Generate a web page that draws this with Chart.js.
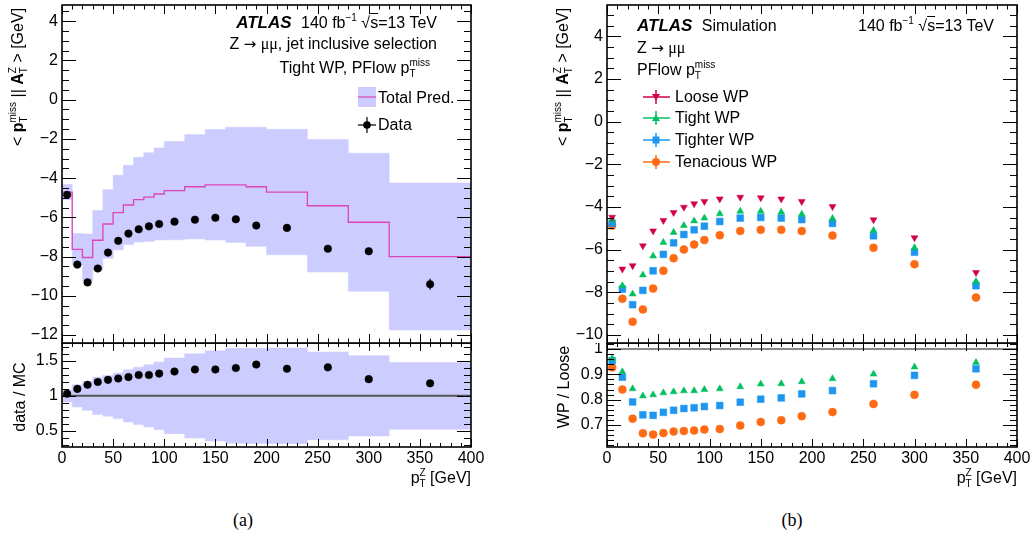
<!DOCTYPE html>
<html>
<head>
<meta charset="utf-8">
<script src="https://cdn.jsdelivr.net/npm/chart.js@4.4.1/dist/chart.umd.min.js"></script>
<style>
  body { margin: 0; background: #fff; }
  #page { position: relative; width: 1035px; height: 538px; overflow: hidden; font-family: "Liberation Sans", Arial, sans-serif; color: #000; }
  canvas { position: absolute; }
  .t { position: absolute; font-size: 16px; line-height: 18px; white-space: nowrap; }
  .atlas { font-weight: bold; font-style: italic; font-size: 17px; margin-right: 5px; }
  .ss { display: inline-block; vertical-align: -4px; font-size: 10px; line-height: 11px; }
  .ss i { display: block; font-style: normal; }
  .rot { transform: translate(-50%, -50%) rotate(-90deg); }
  .cap { position: absolute; font-family: "Liberation Serif", "Times New Roman", serif; font-size: 18px; transform: translateX(-50%); }
  .ov { text-decoration: overline; }
  .arr { font-family: "DejaVu Sans", sans-serif; font-size: 15px; }
  .mu { font-family: "Liberation Serif", serif; }
  sup { font-size: 10px; vertical-align: 7px; line-height: 0; }
  svg { position: absolute; }
</style>
</head>
<body>
<div id="page">
  <canvas id="mainA" width="500" height="345" style="left:0;top:0"></canvas>
  <canvas id="ratioA" width="500" height="130" style="left:0;top:343px"></canvas>
  <canvas id="mainB" width="495" height="345" style="left:540px;top:0"></canvas>
  <canvas id="ratioB" width="495" height="130" style="left:540px;top:343px"></canvas>

  <!-- panel (a) labels -->
  <div class="t rot" style="left:18px;top:77px">&lt; <b>p</b><span class="ss"><i>miss</i><i>T</i></span> || <b>A</b><span class="ss"><i>Z</i><i>T</i></span> &gt; [GeV]</div>
  <div class="t rot" style="left:20px;top:397px">data / MC</div>
  <div class="t" style="right:598px;top:14px"><span class="atlas">ATLAS</span> 140 fb<sup>&minus;1</sup> &radic;<span class="ov">s</span>=13 TeV</div>
  <div class="t" style="right:598px;top:35px">Z <span class="arr">&rarr;</span> <span class="mu">&mu;&mu;</span>, jet inclusive selection</div>
  <div class="t" style="right:605px;top:57px">Tight WP, PFlow p<span class="ss"><i>miss</i><i>T</i></span></div>
  <svg width="18" height="20" style="left:358px;top:87px"><rect width="18" height="20" fill="#ccccff"/><line x1="0" y1="10" x2="18" y2="10" stroke="#dd44bb" stroke-width="1.2"/></svg>
  <div class="t" style="left:378px;top:89px">Total Pred.</div>
  <svg width="20" height="18" style="left:357px;top:116px"><line x1="1" y1="9" x2="19" y2="9" stroke="#000" stroke-width="1.2"/><line x1="10" y1="1" x2="10" y2="17" stroke="#000" stroke-width="1.2"/><circle cx="10" cy="9" r="3.8" fill="#000"/></svg>
  <div class="t" style="left:378px;top:116px">Data</div>
  <div class="t" style="right:564px;top:467px">p<span class="ss"><i>Z</i><i>T</i></span> [GeV]</div>
  <div class="cap" style="left:243px;top:510px">(a)</div>

  <!-- panel (b) labels -->
  <div class="t rot" style="left:563px;top:77px">&lt; <b>p</b><span class="ss"><i>miss</i><i>T</i></span> || <b>A</b><span class="ss"><i>Z</i><i>T</i></span> &gt; [GeV]</div>
  <div class="t rot" style="left:564px;top:387px">WP / Loose</div>
  <div class="t" style="left:637px;top:17px"><span class="atlas">ATLAS</span> Simulation</div>
  <div class="t" style="right:41px;top:17px">140 fb<sup>&minus;1</sup> &radic;<span class="ov">s</span>=13 TeV</div>
  <div class="t" style="left:637px;top:39px">Z <span class="arr">&rarr;</span> <span class="mu">&mu;&mu;</span></div>
  <div class="t" style="left:637px;top:59px">PFlow p<span class="ss"><i>miss</i><i>T</i></span></div>
  <div id="legB"></div>
  <div class="t" style="right:18px;top:467px">p<span class="ss"><i>Z</i><i>T</i></span> [GeV]</div>
  <div class="cap" style="left:792px;top:510px">(b)</div>
</div>
<script>
// binning in pT^Z
const binEdges = [0, 10, 20, 30, 40, 50, 60, 70, 80, 90, 100, 120, 140, 160, 180, 200, 240, 280, 320, 400];
const binCenters = [5, 15, 25, 35, 45, 55, 65, 75, 85, 95, 110, 130, 150, 170, 190, 220, 260, 300, 360];

// (a) data vs total prediction
const predVal = [-4.71, -7.63, -8.05, -7.17, -6.34, -5.76, -5.37, -5.10, -4.97, -4.81, -4.64, -4.44, -4.34, -4.34, -4.44, -4.71, -5.41, -6.25, -8.00];
const predErr = [0.39, 0.8, 1.2, 1.52, 1.75, 1.9, 2.02, 2.16, 2.26, 2.35, 2.51, 2.66, 2.82, 2.94, 3.04, 3.2, 3.38, 3.52, 3.75];
const dataVal = [-4.85, -8.41, -9.32, -8.61, -7.80, -7.20, -6.83, -6.61, -6.46, -6.34, -6.22, -6.12, -6.02, -6.10, -6.42, -6.54, -7.60, -7.73, -9.41];
const dataErr = [0.05, 0.05, 0.05, 0.05, 0.05, 0.05, 0.05, 0.05, 0.05, 0.05, 0.05, 0.06, 0.06, 0.07, 0.08, 0.08, 0.1, 0.15, 0.28];
const dataMcRatio = [1.03, 1.10, 1.16, 1.20, 1.23, 1.25, 1.27, 1.30, 1.30, 1.32, 1.35, 1.38, 1.38, 1.40, 1.45, 1.39, 1.41, 1.24, 1.18];
const mcRelErr = [0.087, 0.159, 0.207, 0.269, 0.293, 0.327, 0.375, 0.413, 0.447, 0.486, 0.543, 0.606, 0.649, 0.68, 0.685, 0.688, 0.63, 0.577, 0.481];

// (b) simulation, working points
const looseVal = [-4.48, -6.91, -6.75, -5.82, -5.12, -4.63, -4.26, -4.01, -3.85, -3.74, -3.62, -3.54, -3.57, -3.62, -3.74, -3.98, -4.60, -5.44, -7.07];
const tightVal = [-4.60, -7.69, -8.08, -7.19, -6.30, -5.66, -5.19, -4.87, -4.65, -4.52, -4.32, -4.20, -4.20, -4.24, -4.34, -4.54, -5.10, -5.91, -7.49];
const tighterVal = [-4.76, -7.85, -8.58, -7.91, -6.99, -6.22, -5.68, -5.29, -5.07, -4.90, -4.68, -4.52, -4.49, -4.52, -4.59, -4.77, -5.35, -6.12, -7.69];
const tenaciousVal = [-4.87, -8.30, -9.38, -8.80, -7.82, -6.99, -6.40, -5.99, -5.76, -5.55, -5.32, -5.12, -5.07, -5.07, -5.13, -5.34, -5.91, -6.68, -8.24];
const tightRatio = [0.963, 0.91, 0.843, 0.815, 0.819, 0.827, 0.831, 0.835, 0.835, 0.84, 0.843, 0.851, 0.862, 0.863, 0.871, 0.883, 0.901, 0.929, 0.947];
const tighterRatio = [0.954, 0.889, 0.791, 0.74, 0.738, 0.75, 0.758, 0.765, 0.768, 0.773, 0.777, 0.79, 0.802, 0.807, 0.823, 0.836, 0.863, 0.896, 0.922];
const tenaciousRatio = [0.927, 0.84, 0.725, 0.667, 0.662, 0.668, 0.674, 0.676, 0.678, 0.682, 0.684, 0.698, 0.712, 0.719, 0.735, 0.751, 0.783, 0.819, 0.859];

// tick labels
const xTicks = [0, 50, 100, 150, 200, 250, 300, 350, 400];
const mainTicksA = [-12, -10, -8, -6, -4, -2, 0, 2, 4];
const ratioTicksA = [0.5, 1, 1.5];
const mainTicksB = [-10, -8, -6, -4, -2, 0, 2, 4];
const ratioTicksB = [0.7, 0.8, 0.9, 1];

const FONT = '"Liberation Sans", Arial, sans-serif';
const COL = { band: '#ccccff', pred: '#dd44bb', loose: '#d0004a', tight: '#00c060', tighter: '#1e96f0', tenacious: '#ff6a14' };
const WPS = [
  { name: 'Loose WP', color: COL.loose, style: 'triangle', rot: 180, vals: looseVal },
  { name: 'Tight WP', color: COL.tight, style: 'triangle', rot: 0, vals: tightVal, ratio: tightRatio },
  { name: 'Tighter WP', color: COL.tighter, style: 'rect', rot: 0, vals: tighterVal, ratio: tighterRatio },
  { name: 'Tenacious WP', color: COL.tenacious, style: 'circle', rot: 0, vals: tenaciousVal, ratio: tenaciousRatio }
];

const pts = ys => binCenters.map((x, i) => ({ x, y: ys[i] }));
const steps = vals => binEdges.map((x, i) => ({ x, y: vals[Math.min(i, vals.length - 1)] }));
const fmt = v => (v < 0 ? '\u2212' : '') + Math.abs(v);

// ROOT-like frame with inward ticks on all four sides
const rootFrame = {
  id: 'rootFrame',
  afterDatasetsDraw(chart, args, o) {
    const { ctx, chartArea: a } = chart;
    const x = chart.scales.x, y = chart.scales.y;
    ctx.save();
    ctx.strokeStyle = '#000';
    ctx.lineWidth = 1;
    ctx.beginPath();
    const marks = (scale, step, len, horiz) => {
      for (let i = Math.ceil(scale.min / step - 1e-6); i * step <= scale.max + 1e-6; i++) {
        const p = Math.round(scale.getPixelForValue(i * step)) + 0.5;
        if (horiz) {
          ctx.moveTo(p, a.bottom); ctx.lineTo(p, a.bottom - len);
          ctx.moveTo(p, a.top); ctx.lineTo(p, a.top + len);
        } else {
          ctx.moveTo(a.left, p); ctx.lineTo(a.left + len, p);
          ctx.moveTo(a.right, p); ctx.lineTo(a.right - len, p);
        }
      }
    };
    marks(x, o.xMinor, o.xMinorLen, true);
    marks(x, o.xMajor, o.xMajorLen, true);
    marks(y, o.yMinor, o.yMinorLen, false);
    marks(y, o.yMajor, o.yMajorLen, false);
    ctx.stroke();
    ctx.lineWidth = 1.6;
    ctx.strokeRect(a.left, a.top, a.right - a.left, a.bottom - a.top);
    ctx.restore();
  }
};

const errorBars = {
  id: 'errorBars',
  afterDatasetsDraw(chart) {
    const ctx = chart.ctx, y = chart.scales.y;
    ctx.save();
    chart.data.datasets.forEach((ds, i) => {
      if (!ds.yErr) return;
      ctx.strokeStyle = ds.pointBackgroundColor;
      ctx.lineWidth = 1.2;
      ctx.beginPath();
      chart.getDatasetMeta(i).data.forEach((pt, j) => {
        const v = ds.data[j].y, e = ds.yErr[j];
        ctx.moveTo(pt.x, y.getPixelForValue(v + e));
        ctx.lineTo(pt.x, y.getPixelForValue(v - e));
      });
      ctx.stroke();
    });
    ctx.restore();
  }
};

function yAxis(min, max, ticks, width) {
  return {
    type: 'linear', min, max,
    grid: { display: false, drawTicks: false },
    border: { display: false },
    ticks: { font: { family: FONT, size: 16 }, color: '#000', padding: 4, callback: fmt },
    afterBuildTicks: s => { s.ticks = ticks.map(v => ({ value: v })); },
    afterFit: s => { s.width = width; s.paddingTop = 0; s.paddingBottom = 0; }
  };
}

function xAxis(labels) {
  return {
    type: 'linear', min: 0, max: 400, display: labels,
    grid: { display: false, drawTicks: false },
    border: { display: false },
    ticks: { font: { family: FONT, size: 16 }, color: '#000', padding: 2, maxRotation: 0, autoSkip: false, callback: fmt },
    afterBuildTicks: s => { s.ticks = xTicks.map(v => ({ value: v })); },
    afterFit: s => { s.height = labels ? 26 : 0; s.paddingLeft = 0; s.paddingRight = 0; }
  };
}

function makeChart(id, datasets, yScale, labels, padRight, padTop, frame) {
  return new Chart(document.getElementById(id), {
    type: 'line',
    data: { datasets },
    plugins: [rootFrame, errorBars],
    options: {
      responsive: false,
      animation: false,
      devicePixelRatio: 1,
      layout: { autoPadding: false, padding: { left: 0, right: padRight, top: padTop, bottom: labels ? 0 : 2 } },
      scales: { x: xAxis(labels), y: yScale },
      plugins: { legend: { display: false }, tooltip: { enabled: false }, rootFrame: frame }
    }
  });
}

function markers(vals, color, style, rot, radius, order, err) {
  return {
    data: pts(vals), showLine: false, order, yErr: err,
    pointStyle: style, pointRotation: rot, pointRadius: radius,
    pointBackgroundColor: color, pointBorderColor: color, pointBorderWidth: 0.5
  };
}

function stepLine(vals, color, width, order, fill, bg) {
  return {
    data: steps(vals), stepped: 'before', order, fill: fill || false,
    borderColor: color, borderWidth: width, backgroundColor: bg || 'transparent', pointRadius: 0
  };
}

const frameMain = { xMajor: 50, xMinor: 10, xMajorLen: 9, xMinorLen: 4.5, yMajor: 2, yMinor: 0.5, yMajorLen: 14, yMinorLen: 7 };

// (a) main
makeChart('mainA', [
  markers(dataVal, '#000', 'circle', 0, 3.8, 0, dataErr),
  stepLine(predVal, COL.pred, 1.3, 1),
  stepLine(predVal.map((v, i) => v + predErr[i]), COL.band, 0.5, 2, '+1', COL.band),
  stepLine(predVal.map((v, i) => v - predErr[i]), COL.band, 0.5, 3)
], yAxis(-12.41, 4.83, mainTicksA, 62), false, 29, 5, frameMain);

// (a) ratio
makeChart('ratioA', [
  markers(dataMcRatio, '#000', 'circle', 0, 3.8, 0),
  stepLine(binEdges.map(() => 1), '#555', 2, 1),
  stepLine(mcRelErr.map(e => 1 + e), COL.band, 0.5, 2, '+1', COL.band),
  stepLine(mcRelErr.map(e => 1 - e), COL.band, 0.5, 3)
], yAxis(0.265, 1.76, ratioTicksA, 62), true, 29, 0,
  { xMajor: 50, xMinor: 10, xMajorLen: 8, xMinorLen: 4, yMajor: 0.5, yMinor: 0.1, yMajorLen: 14, yMinorLen: 7 });

// (b) main
makeChart('mainB', WPS.map((w, i) =>
  markers(w.vals, w.color, w.style, w.rot, w.style === 'rect' ? 4.8 : 4, i)
), yAxis(-10.375, 5.47, mainTicksB, 67), false, 18, 5, frameMain);

// (b) ratio
makeChart('ratioB', [
  ...WPS.slice(1).map((w, i) => markers(w.ratio, w.color, w.style, w.rot, w.style === 'rect' ? 4.8 : 4, i)),
  stepLine(binEdges.map(() => 1), '#888', 2, 5)
], yAxis(0.613, 1.024, ratioTicksB, 67), true, 18, 0,
  { xMajor: 50, xMinor: 10, xMajorLen: 8, xMinorLen: 4, yMajor: 0.1, yMinor: 0.02, yMajorLen: 14, yMinorLen: 7 });

// (b) legend
const leg = document.getElementById('legB');
const legY = [97, 118, 140, 162];
WPS.forEach((w, i) => {
  const y = legY[i];
  const glyph = w.style === 'circle' ? `<circle cx="13" cy="9" r="4" fill="${w.color}"/>`
    : w.style === 'rect' ? `<rect x="9.5" y="5.5" width="7" height="7" fill="${w.color}"/>`
    : w.rot ? `<polygon points="9,6 17,6 13,12.5" fill="${w.color}"/>`
    : `<polygon points="9,12 17,12 13,5.5" fill="${w.color}"/>`;
  leg.insertAdjacentHTML('beforeend',
    `<svg width="27" height="18" style="left:643px;top:${y - 9}px">` +
    `<line x1="0" y1="9" x2="27" y2="9" stroke="${w.color}" stroke-width="1.5"/>` +
    `<line x1="13" y1="2" x2="13" y2="16" stroke="${w.color}" stroke-width="1.5"/>${glyph}</svg>` +
    `<div class="t" style="left:675px;top:${y - 9}px">${w.name}</div>`);
});
</script>
</body>
</html>
